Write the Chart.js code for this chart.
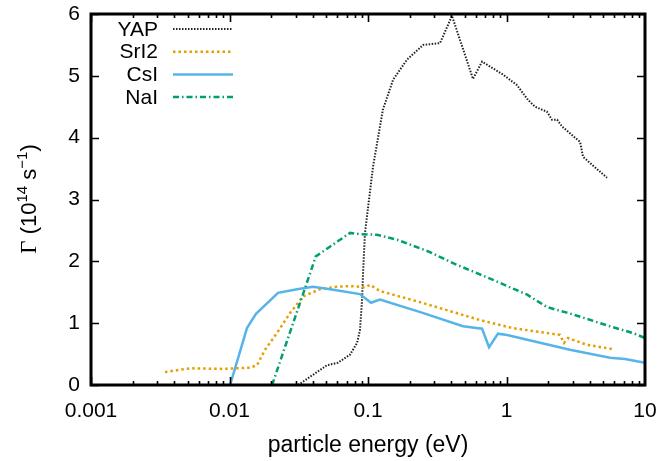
<!DOCTYPE html>
<html>
<head>
<meta charset="utf-8">
<script src="https://cdn.jsdelivr.net/npm/chart.js@4.4.0/dist/chart.umd.min.js"></script>
<style>
  html, body { margin: 0; padding: 0; background: #fff; }
</style>
</head>
<body>
<canvas id="rateChart" width="663" height="461"></canvas>
<script>
// particle energy (eV) vs. rate (10^14 s^-1) for each crystal
const yapEnergy = [0.0313, 0.0506, 0.0607, 0.0741, 0.0834, 0.0875, 0.0906, 0.0921, 0.0951, 0.1016,
    0.1087, 0.128, 0.152, 0.191, 0.250, 0.331, 0.404, 0.573, 0.666, 0.944,
    1.19, 1.43, 1.61, 1.96, 2.13, 2.32, 2.52, 3.40, 3.57, 5.32];
const yapRate = [0, 0.32, 0.36, 0.49, 0.68, 0.89, 1.38, 1.81, 2.46, 2.99,
    3.53, 4.45, 4.94, 5.26, 5.50, 5.53, 5.97, 4.95, 5.23, 5.02,
    4.85, 4.61, 4.50, 4.42, 4.29, 4.29, 4.18, 3.93, 3.69, 3.35];

const sri2Energy = [0.00342, 0.00518, 0.00898, 0.01406, 0.0158, 0.01805, 0.0220, 0.0273, 0.0339, 0.0450,
    0.0597, 0.0741, 0.0951, 0.1033, 0.122, 0.237, 0.644, 1.11, 2.43, 2.60, 2.78, 3.81, 5.87];
const sri2Rate = [0.21, 0.27, 0.26, 0.28, 0.32, 0.57, 0.84, 1.16, 1.43, 1.55,
    1.59, 1.60, 1.58, 1.62, 1.52, 1.34, 1.05, 0.92, 0.81, 0.68, 0.76, 0.65, 0.58];

const csiEnergy = [0.0101, 0.01337, 0.01553, 0.0224, 0.0307, 0.0401, 0.0532, 0.0875, 0.105, 0.122,
    0.245, 0.485, 0.666, 0.748, 0.868, 1.01, 2.87, 5.58, 7.17, 10];
const csiRate = [0, 0.92, 1.15, 1.49, 1.55, 1.59, 1.55, 1.47, 1.33, 1.38,
    1.17, 0.95, 0.91, 0.61, 0.83, 0.81, 0.57, 0.44, 0.42, 0.36];

const naiEnergy = [0.0203, 0.042, 0.0741, 0.0875, 0.116, 0.162, 0.280, 0.411, 0.800, 1.41,
    1.96, 2.73, 3.81, 4.73, 5.58, 8.19, 10];
const naiRate = [0, 2.08, 2.46, 2.44, 2.43, 2.35, 2.15, 1.97, 1.70, 1.46,
    1.26, 1.17, 1.07, 1.00, 0.95, 0.84, 0.76];

const xTicks = [0.001, 0.01, 0.1, 1, 10];
const yTicks = [0, 1, 2, 3, 4, 5, 6];

const SANS = "'Liberation Sans', Arial, sans-serif";
const SERIF = "'Liberation Serif', 'Times New Roman', serif";

const toPoints = (xs, ys) => xs.map((x, i) => ({ x: x, y: ys[i] }));

// keep the plot box fixed: no extra room for overhanging tick labels
const clearPadding = (scale) => {
    scale.paddingLeft = 0;
    scale.paddingRight = 0;
    scale.paddingTop = 0;
    scale.paddingBottom = 0;
};

// Frame with inward ticks on all four sides, minor ticks on the log axis
const framePlugin = {
    id: 'frame',
    afterDraw(chart) {
        const ctx = chart.ctx;
        const { left, right, top, bottom } = chart.chartArea;
        const xs = chart.scales.x;
        const ys = chart.scales.y;
        ctx.save();
        ctx.strokeStyle = '#000';
        ctx.lineWidth = 1.6;
        ctx.beginPath();
        for (let e = -3; e < 1; e++) {
            for (let m = 1; m <= 9; m++) {
                const v = m * Math.pow(10, e);
                const px = Math.round(xs.getPixelForValue(v)) + 0.5;
                const len = m === 1 ? 8 : 4;
                ctx.moveTo(px, bottom); ctx.lineTo(px, bottom - len);
                ctx.moveTo(px, top); ctx.lineTo(px, top + len);
            }
        }
        yTicks.forEach(v => {
            const py = Math.round(ys.getPixelForValue(v)) + 0.5;
            ctx.moveTo(left, py); ctx.lineTo(left + 8, py);
            ctx.moveTo(right, py); ctx.lineTo(right - 8, py);
        });
        ctx.stroke();
        ctx.lineWidth = 3;
        ctx.strokeRect(left, top, right - left, bottom - top);
        ctx.restore();
    }
};

// gnuplot-style key: right-aligned names with line samples beside them
const keyPlugin = {
    id: 'key',
    afterDraw(chart) {
        const ctx = chart.ctx;
        ctx.save();
        ctx.font = '21px ' + SANS;
        ctx.textAlign = 'right';
        ctx.textBaseline = 'middle';
        chart.data.datasets.forEach((ds, i) => {
            const y = 29 + i * 22.7;
            ctx.fillStyle = '#000';
            ctx.fillText(ds.label, 158, y + 1);
            ctx.strokeStyle = ds.borderColor;
            ctx.lineWidth = ds.borderWidth;
            ctx.setLineDash(ds.borderDash || []);
            ctx.beginPath();
            ctx.moveTo(173, y);
            ctx.lineTo(233, y);
            ctx.stroke();
        });
        ctx.restore();
    }
};

// rotated y title with superscripts
const yTitlePlugin = {
    id: 'yTitle',
    afterDraw(chart) {
        const ctx = chart.ctx;
        const parts = [
            { t: 'Γ', font: '23px ' + SERIF, dy: 0 },
            { t: ' (10', font: '22px ' + SANS, dy: 0 },
            { t: '14', font: '15px ' + SANS, dy: -9 },
            { t: ' s', font: '22px ' + SANS, dy: 0 },
            { t: '−1', font: '15px ' + SANS, dy: -9 },
            { t: ')', font: '22px ' + SANS, dy: 0 }
        ];
        ctx.save();
        let total = 0;
        parts.forEach(p => { ctx.font = p.font; p.w = ctx.measureText(p.t).width; total += p.w; });
        ctx.translate(36, 199);
        ctx.rotate(-Math.PI / 2);
        ctx.fillStyle = '#000';
        ctx.textBaseline = 'alphabetic';
        ctx.textAlign = 'left';
        let x = -total / 2;
        parts.forEach(p => {
            ctx.font = p.font;
            ctx.fillText(p.t, x, p.dy);
            x += p.w;
        });
        ctx.restore();
    }
};

const initRateChart = () => {
    const ctx = document.getElementById('rateChart').getContext('2d');
    return new Chart(ctx, {
        type: 'line',
        data: {
            datasets: [{
                label: 'YAP',
                data: toPoints(yapEnergy, yapRate),
                borderColor: '#222222',
                borderWidth: 2,
                borderDash: [1.5, 1.5],
                order: 4
            }, {
                label: 'SrI2',
                data: toPoints(sri2Energy, sri2Rate),
                borderColor: '#E69F00',
                borderWidth: 2.5,
                borderDash: [2.5, 3],
                order: 3
            }, {
                label: 'CsI',
                data: toPoints(csiEnergy, csiRate),
                borderColor: '#56B4E9',
                borderWidth: 2.5,
                order: 2
            }, {
                label: 'NaI',
                data: toPoints(naiEnergy, naiRate),
                borderColor: '#009E73',
                borderWidth: 2.5,
                borderDash: [6, 3, 1.5, 3],
                order: 1
            }]
        },
        options: {
            responsive: false,
            animation: false,
            devicePixelRatio: 1,
            layout: { padding: { left: 0, right: 18, top: 14, bottom: 0 } },
            elements: {
                point: { radius: 0 },
                line: { tension: 0, fill: false }
            },
            plugins: {
                legend: { display: false },
                tooltip: { enabled: false }
            },
            scales: {
                x: {
                    type: 'logarithmic',
                    min: 0.001,
                    max: 10,
                    afterBuildTicks: (scale) => { scale.ticks = xTicks.map(v => ({ value: v })); },
                    afterFit: (scale) => { scale.height = 76; clearPadding(scale); },
                    grid: { display: false, drawTicks: false },
                    border: { display: false },
                    ticks: {
                        autoSkip: false,
                        maxRotation: 0,
                        padding: 14,
                        color: '#000',
                        font: { family: SANS, size: 21 },
                        callback: (v) => String(v)
                    },
                    title: {
                        display: true,
                        text: 'particle energy (eV)',
                        color: '#000',
                        font: { family: SANS, size: 23 },
                        padding: { top: 0, bottom: 2 }
                    }
                },
                y: {
                    min: 0,
                    max: 6,
                    afterBuildTicks: (scale) => { scale.ticks = yTicks.map(v => ({ value: v })); },
                    afterFit: (scale) => { scale.width = 91; clearPadding(scale); },
                    grid: { display: false, drawTicks: false },
                    border: { display: false },
                    ticks: {
                        padding: 11,
                        color: '#000',
                        font: { family: SANS, size: 21 },
                        callback: (v) => String(v)
                    }
                }
            }
        },
        plugins: [framePlugin, keyPlugin, yTitlePlugin]
    });
};

document.addEventListener('DOMContentLoaded', () => {
    initRateChart();
});
</script>
</body>
</html>
